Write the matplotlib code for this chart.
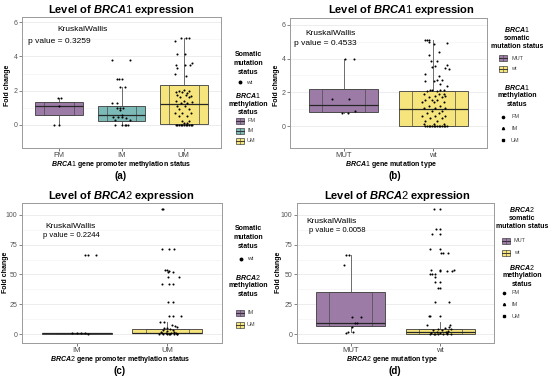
import numpy as np
import matplotlib
matplotlib.use("Agg")
import matplotlib.pyplot as plt
from matplotlib.patches import Rectangle

plt.rcParams["font.family"] = ["Liberation Sans", "DejaVu Sans"]
plt.rcParams["mathtext.fontset"] = "custom"
plt.rcParams["mathtext.it"] = "Liberation Sans:italic:bold"
plt.rcParams["mathtext.rm"] = "Liberation Sans"

# =========================
# DATA
# =========================
PURPLE = "#9c7ca7"
TEAL = "#7cbab7"
YELLOW = "#f6e57c"

# (a) BRCA1 by methylation status
a_groups = ["FM", "IM", "UM"]
a_colors = [PURPLE, TEAL, YELLOW]
a_q1 = [0.55, 0.2, 0.05]
a_med = [1.1, 0.6, 1.2]
a_q3 = [1.33, 1.1, 2.35]
a_lo = [0.0, 0.0, 0.0]
a_hi = [1.55, 2.2, 5.1]

a_fm_y = [0, 0, 1.55, 1.55, 1.1]
a_fm_dx = [-0.08, 0.0, -0.02, 0.03, 0.0]
a_im_y = [3.8, 3.8, 2.7, 2.7, 2.7, 2.2, 2.2, 1.3, 1.3, 1.0, 1.0, 1.0, 0.85,
          0.45, 0.45, 0.45, 0.4, 0.3, 0.3, 0.6, 0, 0, 0, 0, 0]
a_im_dx = [-0.15, 0.13, -0.08, -0.04, 0.0, -0.02, 0.05, -0.15, -0.08, -0.07,
           -0.02, 0.02, -0.03, -0.13, -0.06, 0.01, 0.07, -0.1, 0.13, 0.0,
           -0.11, 0.01, 0.05, 0.07, 0.1]
a_um_y = [5.1, 5.1, 5.05, 4.9, 4.15, 4.15, 3.6, 3.5, 3.5, 3.5, 3.35, 2.95, 2.85,
          2.0, 2.0, 2.05, 1.9, 1.9, 1.85, 1.75, 1.75, 1.7, 1.6, 1.6, 1.4, 1.4,
          1.35, 1.25, 1.25, 1.1, 1.1, 0.9, 0.9, 0.7, 0.7, 0.7, 0.5, 0.5, 0.25,
          0.25, 0.1, 0.1, 0, 0, 0, 0, 0, 0, 0, 0, 0, 0, 0]
a_um_dx = [-0.045, 0.035, 0.09, -0.14, -0.1, 0.025, 0.13, -0.125, 0.02, 0.1,
           -0.1, -0.14, 0.035, -0.07, 0.09, 0.01, -0.125, -0.02, 0.06, -0.1,
           0.035, 0.115, -0.06, 0.09, -0.125, 0.01, 0.13, -0.045, 0.06, -0.1,
           0.025, -0.07, 0.09, -0.135, -0.02, 0.115, -0.08, 0.06, -0.02, 0.09,
           0.01, 0.06, -0.125, -0.1, -0.07, -0.045, -0.02, 0.01, 0.035, 0.06,
           0.09, 0.115, 0.14]

# (b) BRCA1 by mutation type
b_groups = ["MUT", "wt"]
b_colors = [PURPLE, YELLOW]
b_q1 = [0.85, 0.0]
b_med = [1.25, 1.0]
b_q3 = [2.2, 2.1]
b_lo = [0.8, 0.0]
b_hi = [3.95, 5.1]

b_mut_y = [3.95, 3.95, 1.6, 1.6, 0.8, 0.8, 0.88]
b_mut_dx = [0.015, 0.11, -0.13, 0.06, -0.02, 0.05, 0.13]
b_wt_y = [5.1, 5.1, 5.1, 5.0, 4.9, 4.85, 4.4, 4.2, 3.85, 3.85, 3.6, 3.55, 3.5,
          3.45, 3.4, 3.1, 2.95, 2.75, 2.75, 2.65, 2.65, 2.5, 2.35, 2.15, 2.15,
          2.15, 2.15, 2.05, 2.05, 1.9, 1.9, 1.9, 1.8, 1.8, 1.7, 1.7, 1.55, 1.55,
          1.55, 1.4, 1.4, 1.4, 1.2, 1.2, 1.05, 1.05, 1.05, 0.9, 0.9, 0.75, 0.75,
          0.6, 0.6, 0.6, 0.45, 0.45, 0.3, 0.3, 0.15, 0.15, 0.15,
          0, 0, 0, 0, 0, 0, 0, 0, 0, 0, 0, 0, 0, 0]
b_wt_dx = [-0.089, -0.071, -0.052, -0.045, 0.153, 0.004, 0.067, -0.052, -0.026,
           0.041, 0.153, 0.022, -0.015, 0.134, 0.171, -0.089, 0.06, 0.041, 0.097,
           -0.089, 0.004, 0.078, 0.153, -0.034, -0.015, 0.078, 0.115, -0.071,
           0.041, -0.108, 0.06, 0.115, 0.022, 0.134, -0.052, 0.097, -0.089,
           -0.015, 0.041, -0.127, 0.004, 0.115, -0.052, 0.078, -0.108, 0.022,
           0.134, -0.015, 0.097, -0.071, 0.06, -0.127, 0.022, 0.134, -0.034,
           0.097, -0.089, 0.041, -0.108, 0.004, 0.115,
           -0.089, -0.071, -0.052, -0.034, -0.015, 0.004, 0.022, 0.041, 0.06,
           0.078, 0.097, 0.115, 0.134, 0.153]

# (c) BRCA2 by methylation status
c_groups = ["IM", "UM"]
c_colors = [PURPLE, YELLOW]
c_q1 = [0.3, 0.5]
c_med = [0.6, 1.3]
c_q3 = [0.9, 4.3]
c_lo = [0.1, 0.0]
c_hi = [1.2, 10.0]

c_im_y = [66.5, 66.5, 66.5, 0.5, 0.6, 0.8, 1.0, 0.3]
c_im_dx = [0.09, 0.13, 0.21, -0.05, 0.0, 0.05, 0.09, 0.13]
c_um_y = [105, 105, 71, 71, 71, 54, 54, 52.5, 53, 52, 48, 48, 42, 42, 42, 27,
          27, 15, 15, 15, 10, 10, 8, 6.5, 6, 5, 5, 4, 3.5, 3, 2.5, 2, 1.5, 1.2,
          1, 0.8, 0.5, 0.3, 0.2, 0, 0, 0, 0, 0, 0]
c_um_dx = [-0.064, -0.045, -0.057, 0.02, 0.075, -0.027, -0.009, 0.009, 0.02,
           0.057, 0.009, 0.13, -0.064, 0.02, 0.064, 0.009, 0.057, 0.02, 0.064,
           0.145, -0.08, -0.038, 0.046, 0.082, 0.1, -0.038, -0.009, 0.03, 0.06,
           -0.05, 0.0, 0.07, -0.07, 0.04, -0.02, 0.09, -0.06, 0.02, 0.11,
           -0.09, -0.05, -0.01, 0.03, 0.07, 0.1]

# (d) BRCA2 by mutation type
d_groups = ["MUT", "wt"]
d_colors = [PURPLE, YELLOW]
d_q1 = [6.7, 0.3]
d_med = [9.5, 1.5]
d_q3 = [35.5, 4.3]
d_lo = [1.5, 0.0]
d_hi = [66.4, 10.0]

d_mut_y = [66.4, 66.4, 58, 14, 14, 9, 9, 5.6, 2, 1.5, 1.0]
d_mut_dx = [-0.05, -0.02, -0.07, 0.01, 0.11, 0.045, 0.075, 0.01, -0.03, 0.03, -0.05]
d_wt_y = [105, 105, 88, 88, 84, 84, 71.4, 71.4, 67.8, 67.8, 67.8, 54, 54, 54,
          53, 53, 53, 50.4, 50.4, 50.4, 48, 43.4, 43.4, 39, 39, 26.6, 26.6,
          15.4, 15.4, 15.4, 7.8, 7.8, 6, 5, 4.5, 4, 3, 3, 2.5, 2, 1.5, 1, 1,
          0.5, 0.3, 0, 0, 0, 0, 0, 0]
d_wt_dx = [-0.075, 0.0, -0.05, 0.0, -0.093, 0.0, -0.12, 0.0, 0.01, 0.026, 0.086,
           -0.1, 0.0, 0.15, -0.007, 0.075, 0.13, -0.11, -0.093, -0.063, -0.056,
           -0.056, 0.0, -0.02, 0.0, -0.056, 0.093, -0.13, -0.11, 0.0, -0.15,
           0.11, 0.1, 0.05, -0.02, 0.12, -0.08, 0.02, 0.09, -0.04, 0.06, -0.1,
           0.0, 0.08, -0.06, -0.12, -0.07, -0.02, 0.03, 0.08, 0.12]


# =========================
# HELPERS
# =========================
W, H = 550, 378


def px_axes(fig, x0, y0, x1, y1):
    return fig.add_axes([x0 / W, 1 - y1 / H, (x1 - x0) / W, (y1 - y0) / H])


def style_axes(ax, ylim, yticks, minor):
    ax.set_ylim(*ylim)
    ax.set_yticks(yticks)
    ax.set_yticks(minor, minor=True)
    ax.grid(axis="y", which="major", color="#e6e6e6", lw=0.5)
    ax.grid(axis="y", which="minor", color="#f2f2f2", lw=0.4)
    ax.set_axisbelow(True)
    for s in ax.spines.values():
        s.set_color("#9a9a9a")
        s.set_linewidth(0.7)
    ax.tick_params(axis="y", labelsize=5, colors="#555555", length=2, width=0.5,
                   which="major", pad=1.2)
    ax.tick_params(axis="y", which="minor", length=0)
    ax.tick_params(axis="x", labelsize=5.5, colors="#444444", length=2, width=0.5,
                   pad=1.2)


def draw_boxes(ax, groups, colors, q1, med, q3, lo, hi):
    pos = np.arange(1, len(groups) + 1)
    stats = [dict(q1=a, med=m, q3=b, whislo=l, whishi=h, fliers=[])
             for a, m, b, l, h in zip(q1, med, q3, lo, hi)]
    bp = ax.bxp(stats, positions=pos, widths=0.77, patch_artist=True,
                showfliers=False, showcaps=False,
                boxprops=dict(edgecolor="#3c3c3c", lw=0.6),
                medianprops=dict(color="#262626", lw=0.9),
                whiskerprops=dict(color="#555555", lw=0.6))
    for patch, c in zip(bp["boxes"], colors):
        patch.set_facecolor(c)
    # inner overlaid box outline
    ax.bxp(stats, positions=pos, widths=0.48, patch_artist=True,
           showfliers=False, showcaps=False,
           boxprops=dict(facecolor="none", edgecolor="#4a4a4a", lw=0.5),
           medianprops=dict(color="#262626", lw=0.6),
           whiskerprops=dict(lw=0))
    ax.set_xlim(0.4, len(groups) + 0.6)
    ax.set_xticks(pos)
    ax.set_xticklabels(groups)


def draw_points(ax, pos, ys, dxs):
    ax.scatter(pos + np.array(dxs), ys, s=2.2, color="black", lw=0, zorder=4)


fig = plt.figure(figsize=(5.5, 3.78), dpi=100)

# ---------- (a)
ax = px_axes(fig, 22, 17, 221, 148)
draw_boxes(ax, a_groups, a_colors, a_q1, a_med, a_q3, a_lo, a_hi)
draw_points(ax, 1, a_fm_y, a_fm_dx)
draw_points(ax, 2, a_im_y, a_im_dx)
draw_points(ax, 3, a_um_y, a_um_dx)
style_axes(ax, (-1.35, 6.3), [0, 2, 4, 6], [1, 3, 5])
ax.text(0.18, 0.89, "KruskalWallis", transform=ax.transAxes, fontsize=6)
ax.text(0.03, 0.80, "p value = 0.3259", transform=ax.transAxes, fontsize=6)

# ---------- (b)
ax = px_axes(fig, 290, 18, 487, 148)
draw_boxes(ax, b_groups, b_colors, b_q1, b_med, b_q3, b_lo, b_hi)
draw_points(ax, 1, b_mut_y, b_mut_dx)
draw_points(ax, 2, b_wt_y, b_wt_dx)
style_axes(ax, (-1.3, 6.4), [0, 2, 4, 6], [1, 3, 5])
ax.text(0.08, 0.87, "KruskalWallis", transform=ax.transAxes, fontsize=6)
ax.text(0.02, 0.79, "p value = 0.4533", transform=ax.transAxes, fontsize=6)

# ---------- (c)
ax = px_axes(fig, 22, 203, 222, 343)
draw_boxes(ax, c_groups, c_colors, c_q1, c_med, c_q3, c_lo, c_hi)
draw_points(ax, 1, c_im_y, c_im_dx)
draw_points(ax, 2, c_um_y, c_um_dx)
style_axes(ax, (-7.5, 110), [0, 25, 50, 75, 100], [12.5, 37.5, 62.5, 87.5])
ax.text(0.115, 0.82, "KruskalWallis", transform=ax.transAxes, fontsize=6)
ax.text(0.105, 0.755, "p value = 0.2244", transform=ax.transAxes, fontsize=5.5)

# ---------- (d)
ax = px_axes(fig, 297, 203, 494, 343)
draw_boxes(ax, d_groups, d_colors, d_q1, d_med, d_q3, d_lo, d_hi)
draw_points(ax, 1, d_mut_y, d_mut_dx)
draw_points(ax, 2, d_wt_y, d_wt_dx)
style_axes(ax, (-7.5, 110), [0, 25, 50, 75, 100], [12.5, 37.5, 62.5, 87.5])
ax.text(0.05, 0.86, "KruskalWallis", transform=ax.transAxes, fontsize=6)
ax.text(0.06, 0.79, "p value = 0.0058", transform=ax.transAxes, fontsize=5.5)

# =========================
# TEXT + LEGENDS (pixel overlay)
# =========================
ov = fig.add_axes([0, 0, 1, 1], zorder=10)
ov.set_xlim(0, W)
ov.set_ylim(H, 0)
ov.axis("off")
ov.patch.set_alpha(0)


def t(x, y, s, size=5, **kw):
    ov.text(x, y, s, fontsize=size, ha=kw.pop("ha", "center"),
            va=kw.pop("va", "center"), **kw)


# titles
t(121, 10, r"Level of $\mathit{BRCA1}$ expression", 8, fontweight="bold")
t(401, 10, r"Level of $\mathit{BRCA1}$ expression", 8, fontweight="bold")
t(121, 196, r"Level of $\mathit{BRCA2}$ expression", 8, fontweight="bold")
t(397, 196, r"Level of $\mathit{BRCA2}$ expression", 8, fontweight="bold")

# y labels
for x, y in [(8, 85), (277, 85), (5.5, 272), (279, 272)]:
    t(x, y, "Fold change", 5, rotation=90, fontweight="bold")

# x labels and panel tags
t(121, 164.5, r"$\mathit{BRCA1}$ gene promoter methylation status", 5, fontweight="bold")
t(121, 176, "(a)", 7, fontweight="bold")
t(391, 164.5, r"$\mathit{BRCA1}$ gene mutation type", 5, fontweight="bold")
t(395, 176, "(b)", 7, fontweight="bold")
t(120, 359.5, r"$\mathit{BRCA2}$ gene promoter methylation status", 5, fontweight="bold")
t(120, 371, "(c)", 7, fontweight="bold")
t(392, 359.5, r"$\mathit{BRCA2}$ gene mutation type", 5, fontweight="bold")
t(395, 371, "(d)", 7, fontweight="bold")


def box_key(x, y, color):
    ov.add_patch(Rectangle((x - 4, y - 3), 8, 6, facecolor=color,
                           edgecolor="#444444", lw=0.5))
    ov.plot([x - 4, x + 4], [y, y], color="#222222", lw=0.6)
    ov.plot([x, x], [y - 3, y + 3], color="#444444", lw=0.4)


def title_lines(x, y0, lines, step=8.5):
    for i, s in enumerate(lines):
        t(x, y0 + i * step, s, 5, fontweight="bold")


# legend (a)
title_lines(248, 55, ["Somatic", "mutation", "status"])
ov.plot([240], [82], "o", color="black", ms=1.8)
t(246, 82, "wt", 4.5, ha="left", color="#333333")
title_lines(248, 96, [r"$\mathit{BRCA1}$", "methylation", "status"])
for y, g, c in zip([121, 131, 141], a_groups, a_colors):
    box_key(240, y, c)
    t(247, y, g, 4, ha="left", color="#444444")

# legend (b)
title_lines(517, 30, [r"$\mathit{BRCA1}$", "somatic", "mutation status"])
for y, g, c in zip([58, 69], b_groups, b_colors):
    box_key(503, y, c)
    t(511, y, g, 4, ha="left", color="#444444")
title_lines(517, 87, [r"$\mathit{BRCA1}$", "methylation", "status"])
for y, g, m in zip([117, 128, 140], ["FM", "IM", "UM"], ["o", "^", "s"]):
    ov.plot([503], [y], m, color="black", ms=1.6)
    t(511, y, g, 4, ha="left", color="#444444")

# legend (c)
title_lines(248, 229, ["Somatic", "mutation", "status"])
ov.plot([241], [259], "o", color="black", ms=1.8)
t(247, 259, "wt", 4.5, ha="left", color="#333333")
title_lines(248, 277, [r"$\mathit{BRCA2}$", "methylation", "status"])
for y, g, c in zip([313, 325], c_groups, c_colors):
    box_key(240, y, c)
    t(247, y, g, 4, ha="left", color="#444444")

# legend (d)
title_lines(522, 210, [r"$\mathit{BRCA2}$", "somatic", "mutation status"])
for y, g, c in zip([241, 253], d_groups, d_colors):
    box_key(506, y, c)
    t(514, y, g, 4, ha="left", color="#444444")
title_lines(522, 267, [r"$\mathit{BRCA2}$", "methylation", "status"])
for y, g, m in zip([293, 304, 316], ["FM", "IM", "UM"], ["o", "^", "s"]):
    ov.plot([504], [y], m, color="black", ms=1.6)
    t(512, y, g, 4, ha="left", color="#444444")

fig.savefig("out.png", dpi=100)
